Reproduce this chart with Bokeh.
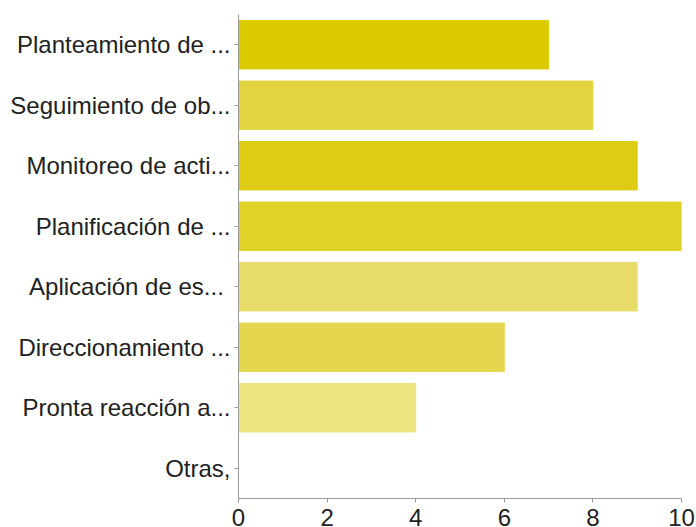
from bokeh.plotting import figure
from bokeh.models import Range1d, FactorRange, ColumnDataSource, FixedTicker
from bokeh.embed import file_html
from bokeh.resources import INLINE

categories = [
    "Planteamiento de ...",
    "Seguimiento de ob...",
    "Monitoreo de acti...",
    "Planificación de ...",
    "Aplicación  de es...",
    "Direccionamiento ...",
    "Pronta reacción a...",
    "Otras,",
]
values = [7, 8, 9, 10, 9, 6, 4, 0]
colors = ["#DCCB00", "#E2D43F", "#DDCC13", "#E0D229", "#E8DC6B", "#E4D74F", "#EDE37F", "#F0E890"]
x_ticks = [0, 2, 4, 6, 8, 10]

src = ColumnDataSource(dict(cat=categories, val=values, col=colors))

p = figure(
    y_range=FactorRange(*reversed(categories), range_padding=0),
    x_range=Range1d(0, 10),
    frame_width=443, frame_height=484,
    min_border_left=238, min_border_top=14, min_border_right=15, min_border_bottom=0,
    output_backend="svg", toolbar_location=None,
)
p.hbar(y="cat", right="val", left=0, height=0.8, color="col", source=src)

p.xgrid.visible = False
p.ygrid.visible = False
p.outline_line_color = None

for ax in (p.xaxis, p.yaxis):
    ax.axis_line_color = "#9a9a9a"
    ax.major_tick_line_color = "#9a9a9a"
    ax.minor_tick_line_color = None
    ax.major_tick_in = 0
    ax.major_tick_out = 4
    ax.major_label_text_font = "Liberation Sans"
    ax.major_label_text_font_size = "24px"
    ax.major_label_text_color = "#222222"
    ax.major_label_standoff = 4

p.xaxis.ticker = FixedTicker(ticks=x_ticks)
p.xaxis.major_label_standoff = 6

open("out.html", "w").write(file_html(p, INLINE))
